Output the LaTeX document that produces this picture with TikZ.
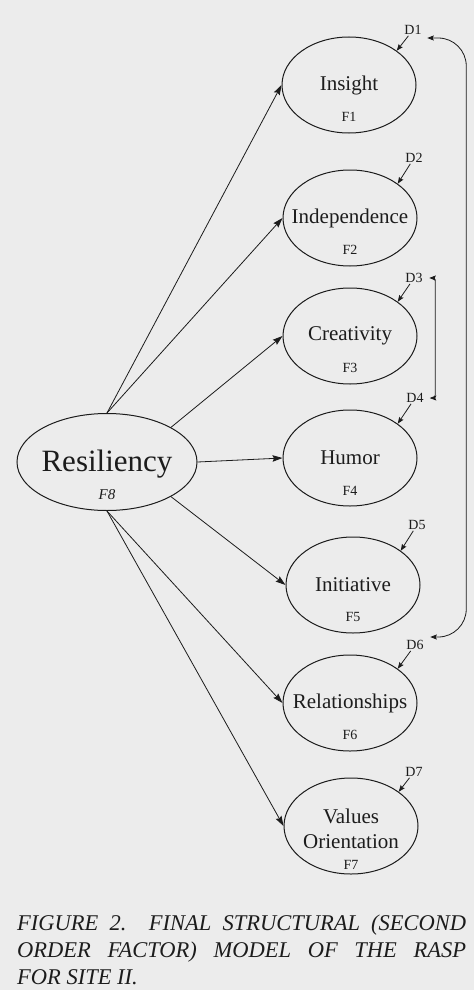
\documentclass[tikz,border=0pt]{standalone}
\usepackage{fontspec}
\setmainfont{Liberation Serif}
\usepackage{tikz}
\usetikzlibrary{positioning}
\usetikzlibrary{calc}
\usetikzlibrary{shapes.geometric}
\usetikzlibrary{arrows.meta}

\definecolor{paper}{RGB}{236,236,236}
\definecolor{ink}{RGB}{28,28,28}

\begin{document}
\begin{tikzpicture}[
    x=1pt, y=-1pt,
    factor/.style={
      ellipse,
      draw=ink,
      line width=1pt,
      minimum width=134pt,
      minimum height=96pt,
      inner sep=0pt
    },
    fname/.style={
      text=ink,
      inner sep=0pt,
      font=\fontsize{21}{25}\selectfont,
      align=center
    },
    fcode/.style={
      text=ink,
      inner sep=0pt,
      font=\fontsize{14}{16}\selectfont
    },
    dlabel/.style={
      text=ink,
      inner sep=1pt,
      font=\fontsize{14}{16}\selectfont
    },
    path/.style={
      draw=ink,
      line width=0.8pt,
      -{Stealth[length=10pt, width=6.5pt, inset=1.5pt]}
    },
    dpath/.style={
      draw=ink,
      line width=0.8pt,
      -{Stealth[length=6.5pt, width=5pt, inset=1pt]}
    },
    corr/.style={
      draw=ink,
      line width=0.8pt,
      {Stealth[length=6.5pt, width=5pt, inset=1pt]}-{Stealth[length=6.5pt, width=5pt, inset=1pt]}
    },
    caption/.style={
      text=ink,
      inner sep=0pt,
      text width=449pt,
      align=justify,
      font=\fontsize{22.5}{27}\selectfont\itshape
    }
  ]

  \fill[paper] (0,0) rectangle (474,990);
  \useasboundingbox (0,0) rectangle (474,990);

  % second order factor
  \node[factor, minimum width=180pt, minimum height=97pt] (F8) at (107,462) {};
  \node[fname, font=\fontsize{31}{34}\selectfont] (N8) at ([yshift=-2pt]F8.center) {Resiliency};
  \node[fcode, font=\fontsize{15}{16}\selectfont\itshape] (C8) at ([yshift=-33pt]F8.center) {F8};

  % first order factors
  \node[factor] (F1) at (349,85) {};
  \node[fname] (N1) at (F1.center) {Insight};
  \node[fcode] (C1) at ([yshift=-32pt]F1.center) {F1};

  \node[factor] (F2) at (350,218) {};
  \node[fname] (N2) at (F2.center) {Independence};
  \node[fcode] (C2) at ([yshift=-32pt]F2.center) {F2};

  \node[factor] (F3) at (350,336) {};
  \node[fname] (N3) at (F3.center) {Creativity};
  \node[fcode] (C3) at ([yshift=-32pt]F3.center) {F3};

  \node[factor] (F4) at (350,458) {};
  \node[fname] (N4) at (F4.center) {Humor};
  \node[fcode] (C4) at ([yshift=-33pt]F4.center) {F4};

  \node[factor] (F5) at (353,585) {};
  \node[fname] (N5) at (F5.center) {Initiative};
  \node[fcode] (C5) at ([yshift=-32pt]F5.center) {F5};

  \node[factor] (F6) at (350,703) {};
  \node[fname] (N6) at (F6.center) {Relationships};
  \node[fcode] (C6) at ([yshift=-32pt]F6.center) {F6};

  \node[factor] (F7) at (351,826) {};
  \node[fname] (N7) at ([yshift=-3pt]F7.center) {Values\\Orientation};
  \node[fcode] (C7) at ([yshift=-39pt]F7.center) {F7};

  % loadings
  \draw[path] (F8.north) -- (F1.west);
  \draw[path] (F8.north) -- (F2.west);
  \draw[path] (F8.north east) -- (F3.west);
  \draw[path] (F8.east) -- (F4.west);
  \draw[path] (F8.south east) -- (F5.west);
  \draw[path] (F8.south) -- (F6.west);
  \draw[path] (F8.south) -- (F7.west);

  % disturbances
  \node[dlabel] (D1) at (413,30) {D1};
  \node[dlabel] (D2) at (414,158) {D2};
  \node[dlabel] (D3) at (414,278) {D3};
  \node[dlabel] (D4) at (415,398) {D4};
  \node[dlabel] (D5) at (417,525) {D5};
  \node[dlabel] (D6) at (415,645) {D6};
  \node[dlabel] (D7) at (414,772) {D7};

  \draw[dpath] (D1) -- (F1.north east);
  \draw[dpath] (D2) -- (F2.north east);
  \draw[dpath] (D3) -- (F3.north east);
  \draw[dpath] (D4) -- (F4.north east);
  \draw[dpath] (D5) -- (F5.north east);
  \draw[dpath] (D6) -- (F6.north east);
  \draw[dpath] (D7) -- (F7.north east);

  % correlated disturbances
  \draw[corr, rounded corners=28pt] ([xshift=4.5pt, yshift=-8pt]D1.east) -- ++(39,0) |- ([xshift=5.5pt, yshift=8pt]D6.east);
  \draw[corr, rounded corners=3pt] ([xshift=5.5pt]D3.east) -- ++(6,0) |- ([xshift=5pt]D4.east);

  % caption
  \node[caption, anchor=base west] (cap) at (17,930) {FIGURE 2.\hspace{1em}FINAL STRUCTURAL (SECOND\linebreak ORDER FACTOR) MODEL OF THE RASP\linebreak FOR SITE II.};
\end{tikzpicture}
\end{document}
